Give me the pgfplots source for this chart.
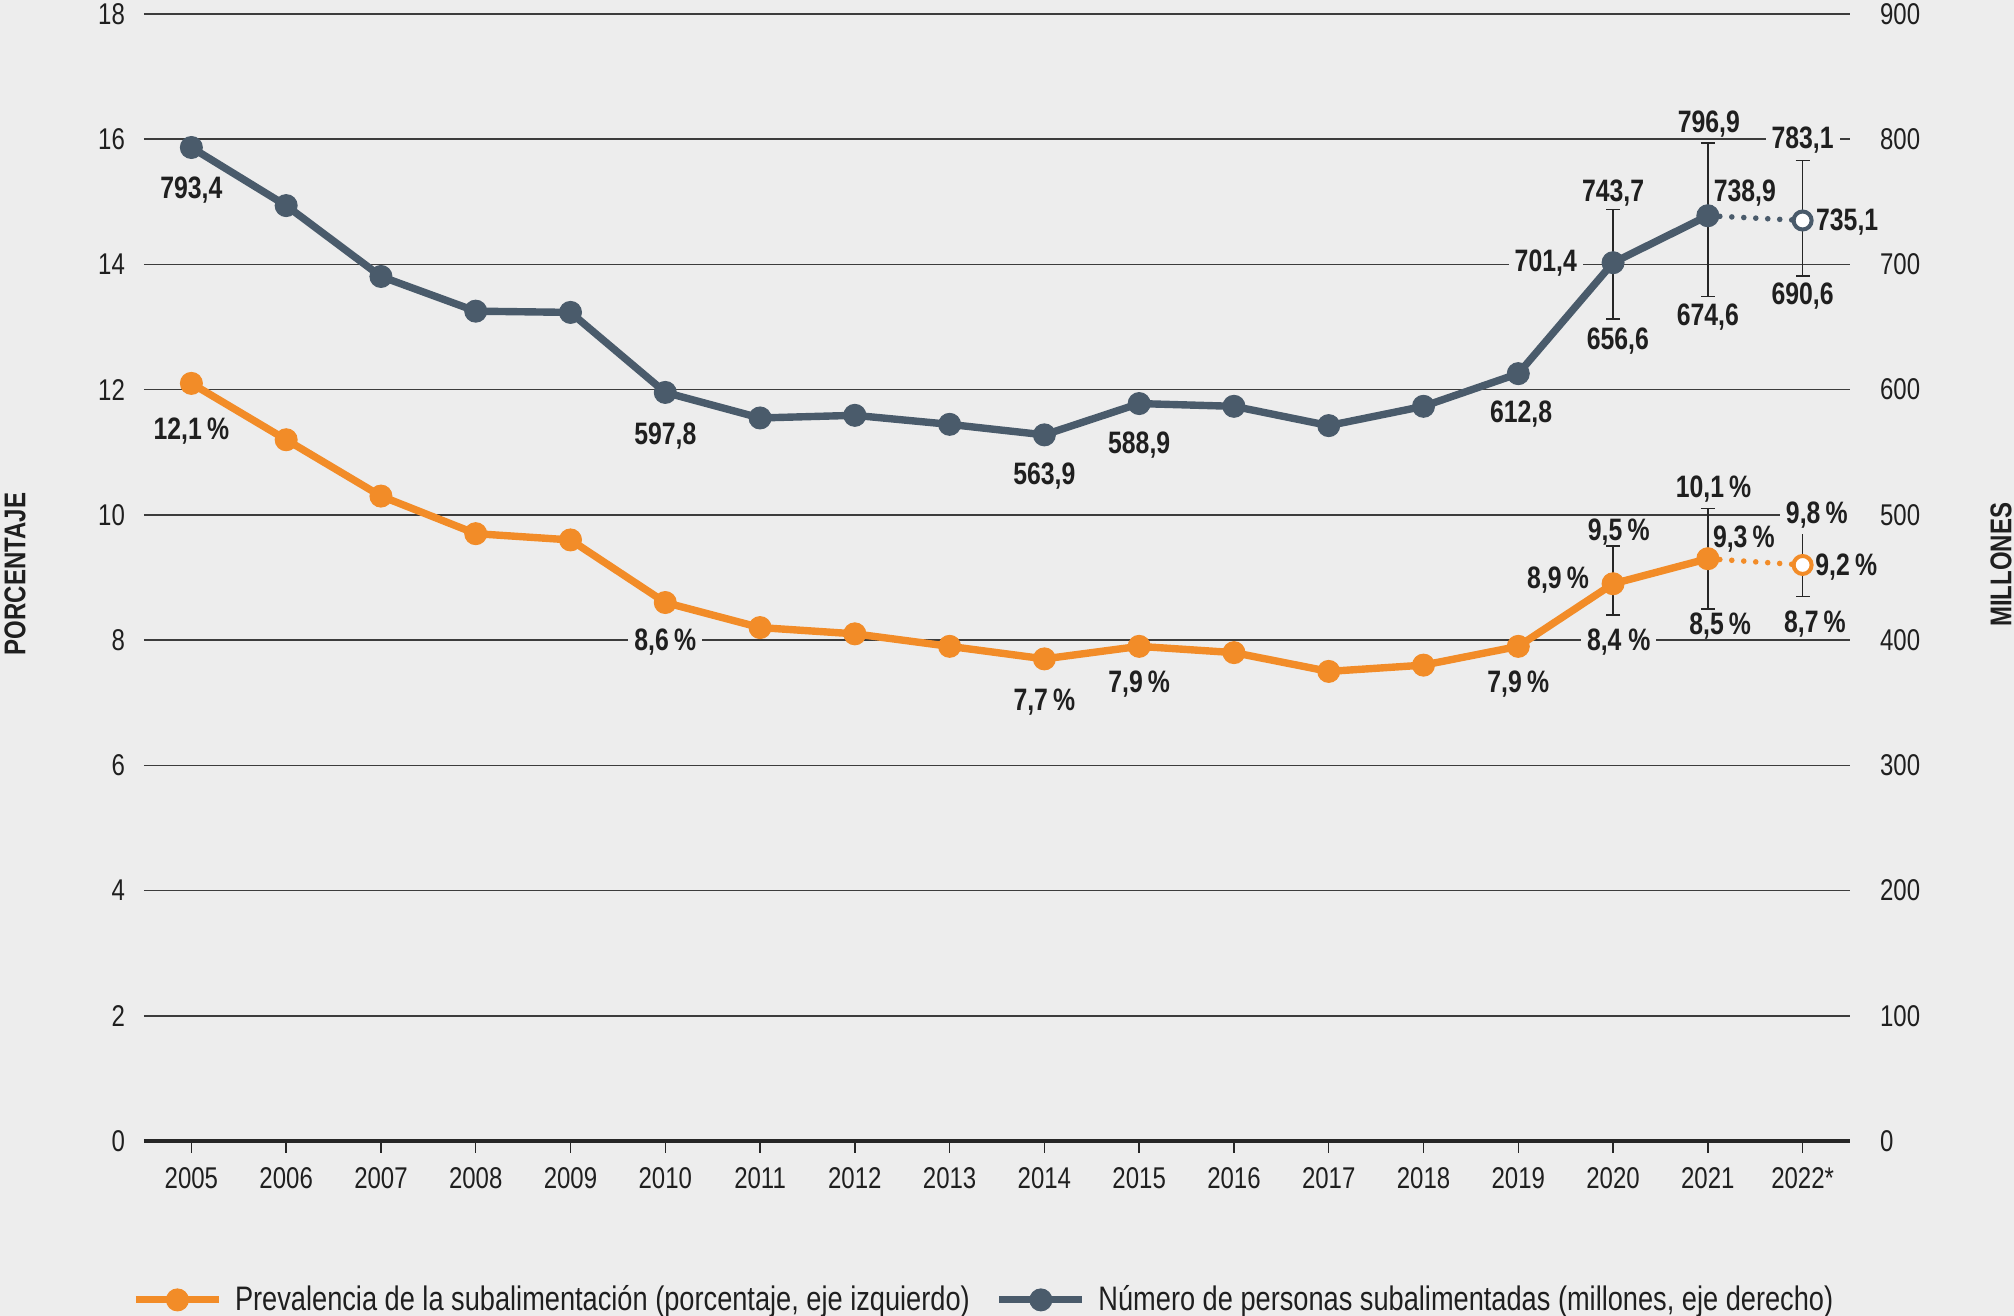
\documentclass[border=0pt]{standalone}
\usepackage{fontspec}
\setmainfont{Liberation Sans}[FakeStretch=0.8]
\newfontfamily\legfont{Liberation Sans}[FakeStretch=0.8]
\usepackage{pgfplots}
\pgfplotsset{compat=1.18}
\definecolor{bg}{HTML}{EDEDED}
\definecolor{orng}{HTML}{F28C28}
\definecolor{slate}{HTML}{4A5B6B}
\definecolor{gridc}{HTML}{3C3C3C}
\tikzset{lab/.style={font=\bfseries\fontsize{15.5}{18}\selectfont, text=black!88, inner sep=1.5pt},
labf/.style={lab, fill=bg, inner sep=3pt}}
\pgfplotsset{
  base/.style={
    at={(0,0)}, anchor=south west,
    scale only axis, width=853pt, height=563.5pt,
    xmin=2004.5, xmax=2022.5,
    tick label style={font=\fontsize{15}{18}\selectfont, text=black!88},
    /pgf/number format/assume math mode=true,
    tick align=outside, major tick length=6pt,
    ytick style={draw=none},
    clip=false,
  },
  mylegimg/.style={legend image code/.code={
    \draw[##1, mark repeat=2, mark phase=2] plot coordinates {(0pt,0pt) (20.75pt,0pt) (41.5pt,0pt)};}},
}
\begin{document}
\begin{tikzpicture}
\fill[bg] (-72pt,-87.5pt) rectangle (935pt,570.5pt);
% left axis: prevalence
\begin{axis}[base,
  ymin=0, ymax=18,
  axis x line*=bottom, axis y line*=left,
  x axis line style={line width=2pt, draw=black!85, -},
  y axis line style={draw=none},
  xtick={2005,2006,2007,2008,2009,2010,2011,2012,2013,2014,2015,2016,2017,2018,2019,2020,2021,2022},
  xticklabels={2005,2006,2007,2008,2009,2010,2011,2012,2013,2014,2015,2016,2017,2018,2019,2020,2021,2022*},
  xtick style={draw=black!85, line width=0.75pt},
  xticklabel style={yshift=-3.5pt},
  ytick={0,2,...,18},
  yticklabel style={xshift=0pt},
  ymajorgrids, grid style={line width=0.75pt, gridc},
  legend columns=2,
  legend style={draw=none, fill=none, at={(rel axis cs:-0.007,-0.141)}, anchor=west,
    font=\legfont\fontsize{17}{20}\selectfont, text=black!88, inner sep=0pt,
    /tikz/every odd column/.append style={column sep=4.3pt},
    /tikz/every even column/.append style={column sep=11pt}},
  legend cell align=left,
]
\addlegendimage{mylegimg, orng, line width=3.5pt, mark=*, mark size=5.5pt, mark options={fill=orng, draw=orng, line width=0.5pt}}
\addlegendentry{Prevalencia de la subalimentación (porcentaje, eje izquierdo)}
\addlegendimage{mylegimg, slate, line width=3.5pt, mark=*, mark size=5.5pt, mark options={fill=slate, draw=slate, line width=0.5pt}}
\addlegendentry{Número de personas subalimentadas (millones, eje derecho)}
% error bars
\addplot[forget plot, draw=none, mark=none,
  error bars/.cd, y dir=both, y explicit,
  error bar style={draw=black!85, line width=0.75pt},
  error mark options={draw=black!85, line width=0.75pt, mark size=3.5pt, rotate=90}]
  coordinates {(2020,8.9) += (0,0.6) -= (0,0.5)
               (2021,9.3) += (0,0.8) -= (0,0.8)
               (2022,9.2) += (0,0.6) -= (0,0.5)};
% dotted projection
\addplot[forget plot, orng, line width=2.8pt, dash pattern=on 0pt off 6pt, line cap=round]
  coordinates {(2021,9.3) (2022,9.2)};
% main line
\addplot[forget plot, orng, line width=3.7pt, mark=*, mark size=5.5pt, mark options={fill=orng, draw=orng, line width=0.5pt}]
  coordinates {(2005,12.1) (2006,11.2) (2007,10.3) (2008,9.7) (2009,9.6) (2010,8.6)
  (2011,8.2) (2012,8.1) (2013,7.9) (2014,7.7) (2015,7.9) (2016,7.8) (2017,7.5)
  (2018,7.6) (2019,7.9) (2020,8.9) (2021,9.3)};
% open marker
\addplot[forget plot, only marks, mark=*, mark size=4.5pt, mark options={fill=white, draw=orng, line width=2pt}]
  coordinates {(2022,9.2)};
% labels
\node[lab] at (axis cs:2005,11.34) {12,1\,\%};
\node[labf] at (axis cs:2010,7.97) {8,6\,\%};
\node[lab] at (axis cs:2014,7.01) {7,7\,\%};
\node[lab] at (axis cs:2015,7.29) {7,9\,\%};
\node[lab] at (axis cs:2019,7.29) {7,9\,\%};
\node[lab] at (axis cs:2019.42,8.96) {8,9\,\%};
\node[lab] at (axis cs:2020.06,9.72) {9,5\,\%};
\node[labf] at (axis cs:2020.06,7.97) {8,4 \%};
\node[lab] at (axis cs:2021.06,10.42) {10,1\,\%};
\node[lab] at (axis cs:2021.38,9.62) {9,3\,\%};
\node[lab] at (axis cs:2021.13,8.22) {8,5\,\%};
\node[labf] at (axis cs:2022.15,10.0) {9,8\,\%};
\node[lab] at (axis cs:2022.46,9.16) {9,2\,\%};
\node[lab] at (axis cs:2022.13,8.26) {8,7\,\%};
\end{axis}
% right axis: millions
\begin{axis}[base,
  ymin=0, ymax=900,
  axis x line=none, axis y line*=right,
  y axis line style={draw=none},
  ytick={0,100,...,900},
  yticklabel style={anchor=west, xshift=5.5pt},
]
\addplot[forget plot, draw=none, mark=none,
  error bars/.cd, y dir=both, y explicit,
  error bar style={draw=black!85, line width=0.75pt},
  error mark options={draw=black!85, line width=0.75pt, mark size=3.5pt, rotate=90}]
  coordinates {(2020,701.4) += (0,42.3) -= (0,44.8)
               (2021,738.9) += (0,58.0) -= (0,64.3)
               (2022,735.1) += (0,48.0) -= (0,44.5)};
\addplot[forget plot, slate, line width=2.8pt, dash pattern=on 0pt off 6pt, line cap=round]
  coordinates {(2021,738.9) (2022,735.1)};
\addplot[forget plot, slate, line width=3.7pt, mark=*, mark size=5.5pt, mark options={fill=slate, draw=slate, line width=0.5pt}]
  coordinates {(2005,793.4) (2006,747) (2007,690.4) (2008,662.7) (2009,661.7) (2010,597.8)
  (2011,577.4) (2012,579.5) (2013,572.3) (2014,563.9) (2015,588.9) (2016,586.7) (2017,571.3)
  (2018,586.7) (2019,612.8) (2020,701.4) (2021,738.9)};
\addplot[forget plot, only marks, mark=*, mark size=4.5pt, mark options={fill=white, draw=slate, line width=2pt}]
  coordinates {(2022,735.1)};
\node[lab] at (axis cs:2005,759.3) {793,4};
\node[lab] at (axis cs:2010,563) {597,8};
\node[lab] at (axis cs:2014,531.2) {563,9};
\node[lab] at (axis cs:2015,555.8) {588,9};
\node[lab] at (axis cs:2019.03,580.5) {612,8};
\node[labf] at (axis cs:2019.29,700.7) {701,4};
\node[lab] at (axis cs:2020,757.2) {743,7};
\node[lab] at (axis cs:2020.05,639) {656,6};
\node[lab] at (axis cs:2021.01,811.7) {796,9};
\node[lab] at (axis cs:2021.39,757.2) {738,9};
\node[lab] at (axis cs:2021,657.6) {674,6};
\node[labf] at (axis cs:2022,799.3) {783,1};
\node[lab] at (axis cs:2022.47,733.6) {735,1};
\node[lab] at (axis cs:2022,675) {690,6};
\end{axis}
\node[rotate=90, inner sep=0pt, font=\bfseries\fontsize{15}{18}\selectfont, text=black!88] at (-64.5pt,283.5pt) {PORCENTAJE};
\node[rotate=90, inner sep=0pt, font=\bfseries\fontsize{15}{18}\selectfont, text=black!88] at (928.5pt,288pt) {MILLONES};
\pgfresetboundingbox
\path[use as bounding box] (-72pt,-87.5pt) rectangle (935pt,570.5pt);
\end{tikzpicture}
\end{document}
